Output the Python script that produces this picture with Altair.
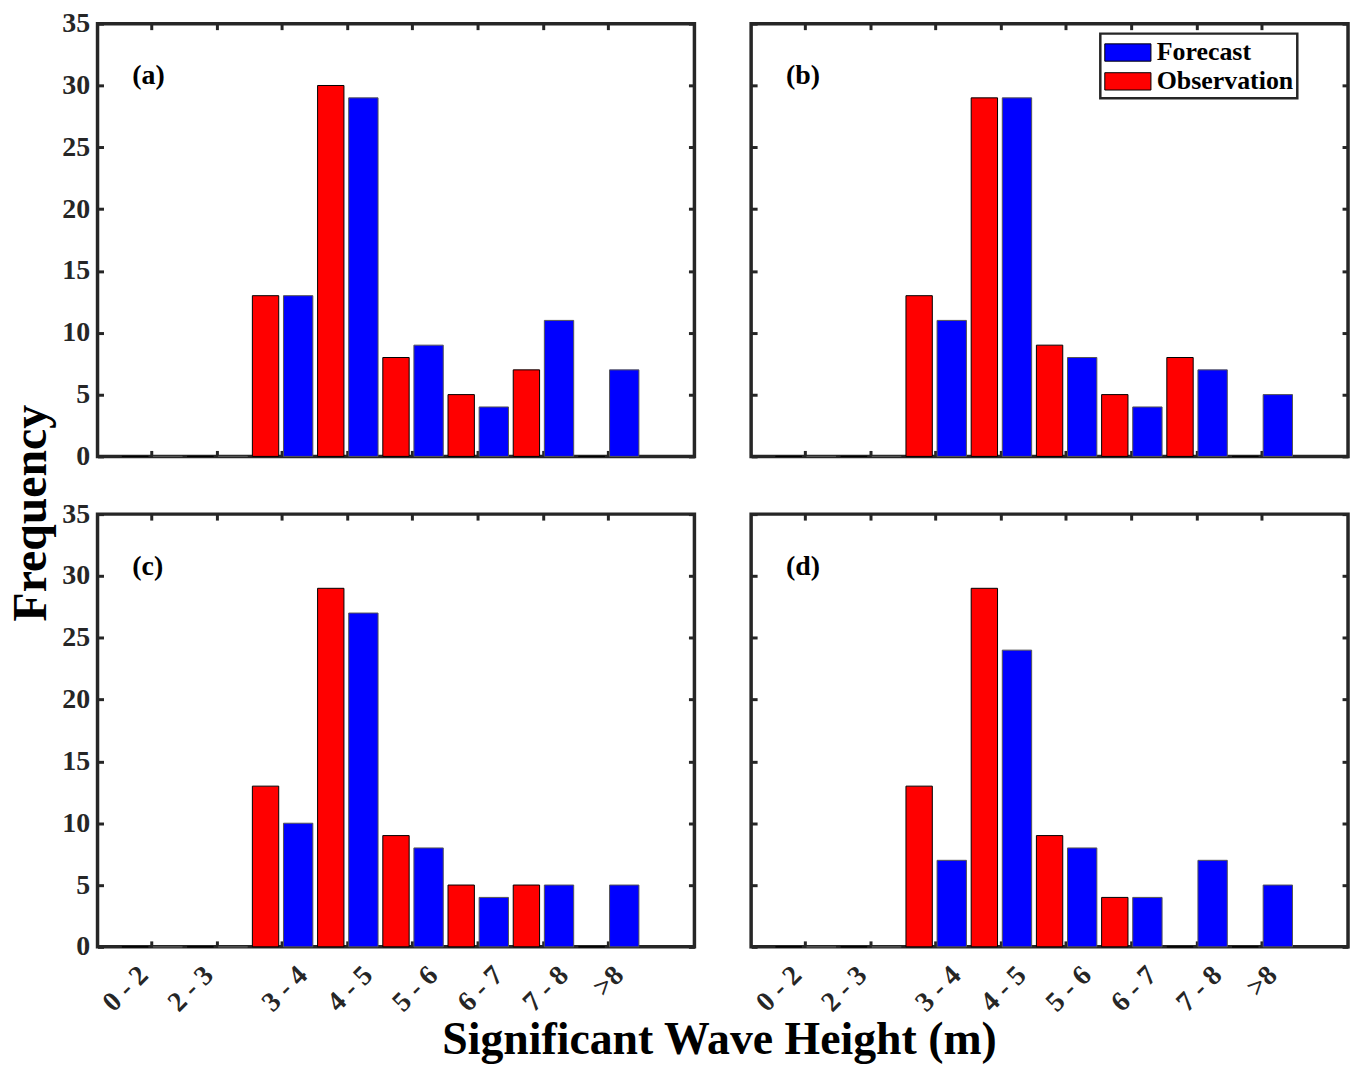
import json
import altair as alt
import pandas as pd

# ---------------- data ----------------
categories = ["0 - 2", "2 - 3", "3 - 4", "4 - 5", "5 - 6", "6 - 7", "7 - 8", ">8"]
series_names = ["Forecast", "Observation"]
series_colors = ["#0000FF", "#FF0000"]
panel_labels = ["(a)", "(b)", "(c)", "(d)"]

obs_a = [0, 0, 13, 30, 8, 5, 7, 0]
fc_a = [0, 0, 13, 29, 9, 4, 11, 7]
obs_b = [0, 0, 13, 29, 9, 5, 8, 0]
fc_b = [0, 0, 11, 29, 8, 4, 7, 5]
obs_c = [0, 0, 13, 29, 9, 5, 5, 0]
fc_c = [0, 0, 10, 27, 8, 4, 5, 5]
obs_d = [0, 0, 13, 29, 9, 4, 0, 0]
fc_d = [0, 0, 7, 24, 8, 4, 7, 5]

y_ticks = [0, 5, 10, 15, 20, 25, 30, 35]

# ---------------- style ----------------
FONT = "Liberation Serif"
AXC = "#262626"
W, H = 600, 435
OBS_OFF, FC_OFF, TICK_OFF = 0.5, 1.0, 0.75
x_ticks = [k + TICK_OFF for k in range(len(categories))]
label_expr = json.dumps(categories).replace('"', "'") + f"[round(datum.value - {TICK_OFF})]"

x_scale = alt.Scale(domain=[0, len(categories) + 1], nice=False, zero=False)
y_scale = alt.Scale(domain=[0, 35], nice=False)
color_scale = alt.Scale(domain=series_names, range=series_colors)

# per-label horizontal shift of the rotated tick labels (as in the original figure)
label_offset = {
    "condition": [
        {"test": "datum.value < 2", "value": -8},
        {"test": "datum.value > 7.5", "value": 11},
    ],
    "value": 21,
}


def tick_axis(orient, offset, values):
    return alt.Axis(orient=orient, offset=offset, values=values, labels=False,
                    domain=False, ticks=True, tickSize=6, tickWidth=3,
                    tickColor=AXC, title=None, grid=False, minExtent=0)


def panel(obs, fc, label, show_x, show_y, show_legend):
    rows = []
    for k, c in enumerate(categories):
        rows.append({"cat": c, "series": "Observation", "pos": k + OBS_OFF, "value": obs[k]})
    for k, c in enumerate(categories):
        rows.append({"cat": c, "series": "Forecast", "pos": k + FC_OFF, "value": fc[k]})
    df = pd.DataFrame(rows)
    base = alt.Chart(df)

    if show_x:
        x_main = alt.Axis(orient="bottom", values=x_ticks, labelExpr=label_expr,
                          labelAngle=315, labelAlign="right", labelBaseline="middle",
                          labelFont=FONT, labelFontSize=28, labelFontWeight="bold",
                          labelColor=AXC, labelPadding=24, labelOffset=label_offset,
                          ticks=False, domain=False, title=None, grid=False,
                          minExtent=0)
    else:
        x_main = None
    if show_y:
        y_main = alt.Axis(orient="left", values=y_ticks,
                          labelFont=FONT, labelFontSize=28, labelFontWeight="bold",
                          labelColor=AXC, labelPadding=8, ticks=False, domain=False,
                          title=None, grid=False, minExtent=0)
    else:
        y_main = None

    if show_legend:
        legend = alt.Legend(orient="none", legendX=351, legendY=10, title=None,
                            labelFont=FONT, labelFontSize=26, labelFontWeight="bold",
                            labelColor="black", symbolType="M-1.6,-0.6H1.6V0.6H-1.6Z",
                            symbolSize=841, symbolOffset=8.7,
                            symbolStrokeColor="black", symbolStrokeWidth=1,
                            strokeColor=AXC, fillColor="white",
                            padding=4, rowPadding=1, labelOffset=14)
    else:
        legend = None

    tick_layer = base.mark_point(opacity=0, size=0).encode(
        x=alt.X("pos:Q", scale=x_scale, axis=tick_axis("bottom", -H, x_ticks)),
        y=alt.Y("value:Q", scale=y_scale, axis=tick_axis("left", -W, y_ticks)),
    )
    obs_layer = base.transform_filter(alt.datum.series == "Observation").mark_bar(
        size=26.5, stroke="#000000", strokeWidth=1
    ).encode(
        x=alt.X("pos:Q", scale=x_scale, axis=x_main),
        y=alt.Y("value:Q", scale=y_scale, axis=y_main),
        color=alt.Color("series:N", scale=color_scale, legend=legend),
    )
    fc_layer = base.transform_filter(alt.datum.series == "Forecast").mark_bar(
        size=29.5, stroke="#555555", strokeWidth=1
    ).encode(
        x=alt.X("pos:Q", scale=x_scale, axis=tick_axis("top", -H, x_ticks)),
        y=alt.Y("value:Q", scale=y_scale, axis=tick_axis("right", -W, y_ticks)),
        color=alt.Color("series:N", scale=color_scale, legend=None),
    )
    text_layer = alt.Chart(pd.DataFrame({"label": [label]})).mark_text(
        align="left", baseline="middle", font=FONT, fontSize=28,
        fontWeight="bold", color="black"
    ).encode(x=alt.value(35), y=alt.value(53), text="label:N")

    return alt.layer(tick_layer, obs_layer, fc_layer, text_layer).resolve_axis(
        x="independent", y="independent"
    ).properties(width=W, height=H)


pa = panel(obs_a, fc_a, panel_labels[0], False, True, False)
pb = panel(obs_b, fc_b, panel_labels[1], False, False, True)
pc = panel(obs_c, fc_c, panel_labels[2], True, True, False)
pd_ = panel(obs_d, fc_d, panel_labels[3], True, False, False)

row1 = alt.hconcat(pa, pb, spacing=49).resolve_scale(color="independent").resolve_legend(color="independent")
row2 = alt.hconcat(pc, pd_, spacing=49).resolve_scale(color="independent").resolve_legend(color="independent")

inner = alt.vconcat(
    row1, row2, spacing=26,
    title=alt.TitleParams(text="Frequency", orient="left", anchor="middle", font=FONT,
                          fontSize=48, fontWeight="bold", color="black", offset=4),
).resolve_scale(color="independent").resolve_legend(color="independent")

chart = alt.vconcat(
    inner,
    title=alt.TitleParams(text="Significant Wave Height (m)", orient="bottom", anchor="middle",
                          font=FONT, fontSize=46, fontWeight="bold", color="black",
                          offset=0, dx=40),
).resolve_scale(color="independent").resolve_legend(color="independent").configure_view(
    stroke=AXC, strokeWidth=3.5
).configure_legend(strokeWidth=2.5).properties(
    background="white",
    padding={"left": 0, "right": 0, "top": -3, "bottom": 0}
)

chart.save("out.html", embed_options={"renderer": "svg", "actions": False})
